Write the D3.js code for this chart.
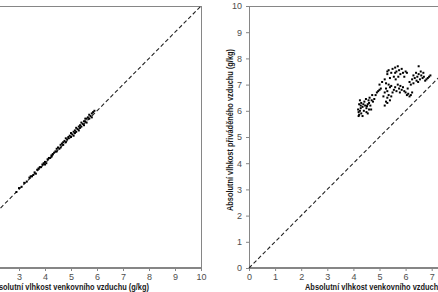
<!DOCTYPE html>
<html><head><meta charset="utf-8">
<script src="https://cdn.jsdelivr.net/npm/d3@7"></script>
<style>
html,body{margin:0;padding:0;background:#fff;overflow:hidden;}
svg{display:block;font-family:"Liberation Sans",Arial,sans-serif;}
</style></head>
<body><svg id="c" width="438" height="292"></svg>
<script>
// Tick labels
const xTicksLeft = [3,4,5,6,7,8,9,10];
const xTicksRight = [0,1,2,3,4,5,6,7];
const yTicks = [0,1,2,3,4,5,6,7,8,9,10];
const xTitle = "Absolutní vlhkost venkovního vzduchu (g/kg)";
const yTitleRight = "Absolutní vlhkost přiváděného vzduchu (g/kg)";

// Left chart: outdoor humidity vs. second humidity
const leftX = [2.9,3.0,3.1,3.2,3.3,3.4,3.45,3.5,3.55,3.6,3.65,3.7,3.75,3.8,3.85,3.9,3.95,4.0,4.0,4.05,4.1,4.15,4.2,4.25,4.25,4.3,4.35,4.4,4.45,4.45,4.5,4.55,4.6,4.6,4.65,4.7,4.7,4.75,4.8,4.8,4.85,4.9,4.9,4.95,5.0,5.0,5.05,5.1,5.1,5.15,5.15,5.2,5.2,5.25,5.3,5.3,5.35,5.35,5.4,5.4,5.45,5.5,5.5,5.55,5.55,5.6,5.6,5.65,5.7,5.7,5.75,5.8,5.8,5.85,5.9];
const leftY = [2.9,3.05,3.1,3.25,3.3,3.45,3.5,3.5,3.55,3.65,3.6,3.75,3.8,3.85,3.85,3.95,4.0,4.05,3.95,4.0,4.15,4.2,4.2,4.3,4.25,4.35,4.4,4.45,4.45,4.55,4.6,4.55,4.7,4.6,4.75,4.7,4.8,4.85,4.8,4.95,4.9,5.0,4.95,5.05,5.0,5.15,5.1,5.2,5.05,5.25,5.15,5.2,5.35,5.3,5.4,5.25,5.45,5.35,5.4,5.55,5.5,5.6,5.45,5.6,5.7,5.7,5.55,5.75,5.7,5.85,5.8,5.9,5.75,5.95,6.0];

// Right chart: outdoor vs. supply air humidity
const rightX = [4.2,4.22,4.25,4.18,4.3,4.28,4.35,4.3,4.22,4.4,4.45,4.5,4.42,4.55,4.6,4.5,4.65,4.7,4.62,4.75,4.8,4.68,4.25,4.35,4.2,4.85,4.9,4.95,5.0,5.05,4.58,4.48,4.72,4.38,4.28,4.52,4.6,4.55,
 5.2,5.25,5.3,5.35,5.3,5.25,5.4,5.45,5.35,5.2,5.15,5.3,5.4,5.5,5.45,
 5.2,5.3,5.35,5.45,5.5,5.6,5.65,5.7,5.75,5.8,5.85,5.55,5.4,5.9,5.95,6.0,5.72,5.62,6.05,5.25,5.1,5.0,5.3,5.6,
 5.6,5.7,5.75,5.8,5.85,5.9,5.95,6.0,6.05,6.1,6.15,6.2,5.65,5.78,6.08,5.55,6.25,
 6.2,6.25,6.3,6.35,6.4,6.45,6.5,6.55,6.6,6.65,6.7,6.75,6.8,6.9,6.95,6.5,6.15,6.3,6.42,6.58,6.85,6.48,6.68];
const rightY = [5.95,5.85,6.0,6.05,5.9,6.1,6.15,6.3,6.25,6.0,6.2,6.1,6.35,6.25,6.3,5.95,6.2,6.4,6.5,6.35,6.45,6.05,6.4,5.8,5.8,6.6,6.7,6.75,6.8,6.85,6.4,6.45,6.6,6.25,6.2,6.18,6.05,5.9,
 6.2,6.35,6.5,6.6,6.75,6.85,6.9,6.95,7.0,6.7,6.55,6.3,6.4,6.7,6.55,
 7.2,7.4,7.55,7.45,7.6,7.65,7.5,7.7,7.55,7.4,7.6,7.3,7.25,7.45,7.3,7.5,7.3,7.2,7.45,7.05,7.1,7.0,7.5,7.45,
 6.9,7.0,6.85,6.95,6.8,6.9,6.75,6.7,6.6,6.65,6.55,6.6,6.75,6.7,6.85,6.8,6.7,
 7.0,7.2,7.35,7.25,7.45,7.3,7.4,7.2,7.35,7.25,7.3,7.15,7.2,7.3,7.35,7.7,7.1,7.05,7.15,7.5,7.25,7.1,7.45];

const svg = d3.select("#c");
const axisCol = "#868686", textCol = "#4d4d4d";

function chart(x0, x1, xs, ys, opts) {
  const x = d3.scaleLinear().domain([0,10]).range([x0, x1]);
  const y = d3.scaleLinear().domain([0,10]).range([268, 6]);
  const g = svg.append("g");
  g.append("rect").attr("x", x0+0.5).attr("y", 6.5).attr("width", x1-x0).attr("height", 261)
    .attr("fill","none").attr("stroke", axisCol).attr("stroke-width",1);
  const xa = g.append("g").attr("transform","translate(0,268)")
    .call(d3.axisBottom(x).tickValues(opts.xTicks).tickSize(3).tickPadding(2.5).tickFormat(d3.format("d")));
  const axes = [xa];
  if (opts.yAxis) {
    const ya = g.append("g").attr("transform",`translate(${x0},0)`)
      .call(d3.axisLeft(y).tickValues(yTicks).tickSize(3).tickPadding(4).tickFormat(d3.format("d")));
    axes.push(ya);
  }
  axes.forEach(a => {
    a.select(".domain").attr("stroke", axisCol);
    a.selectAll(".tick line").attr("stroke", axisCol);
    a.selectAll(".tick text").attr("fill", textCol).attr("font-size", 9)
      .attr("font-family", '"Liberation Sans",Arial,sans-serif');
  });
  g.append("line").attr("x1", x(0)).attr("y1", y(0)).attr("x2", x(10)).attr("y2", y(10))
    .attr("stroke","#222").attr("stroke-width",1.1).attr("stroke-dasharray","4,2.5");
  g.selectAll("rect.pt").data(xs.map((v,i)=>[v, ys[i]])).enter().append("rect")
    .attr("x", d=>x(d[0])-1).attr("y", d=>y(d[1])-1).attr("width",2).attr("height",2)
    .attr("fill","#000");
  g.append("text").attr("x", opts.xtX).attr("y", 289.5).attr("text-anchor", opts.xtAnchor)
    .attr("font-size", 8.8).attr("font-weight","bold").attr("fill","#1a1a1a")
    .attr("textLength", 160).attr("lengthAdjust","spacingAndGlyphs").text(xTitle);
  if (opts.yTitle) {
    g.append("text").attr("transform", `translate(${opts.ytX},${opts.ytY}) rotate(-90)`)
      .attr("text-anchor","middle").attr("font-size", 8.8).attr("font-weight","bold")
      .attr("textLength", 162).attr("lengthAdjust","spacingAndGlyphs")
      .attr("fill","#1a1a1a").text(opts.yTitle);
  }
}

chart(-59, 201, leftX, leftY, {xTicks: xTicksLeft, yAxis: false, xtX: 69, xtAnchor: "middle"});
chart(249, 510, rightX, rightY, {xTicks: xTicksRight, yAxis: true, xtX: 305, xtAnchor: "start", ytX: 233, ytY: 130, yTitle: yTitleRight});
</script></body></html>
